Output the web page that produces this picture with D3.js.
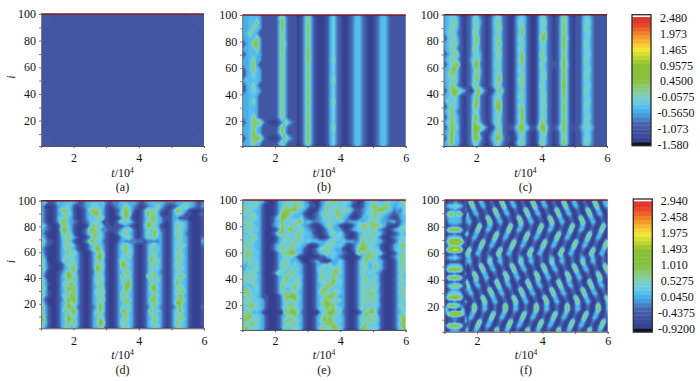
<!DOCTYPE html>
<html>
<head>
<meta charset="utf-8">
<script src="https://cdn.jsdelivr.net/npm/d3@7"></script>
<style>
  html, body { margin: 0; padding: 0; background: #fff; }
  svg { display: block; }
  text { font-family: "Liberation Serif", serif; fill: #111; }
</style>
</head>
<body>
<div id="chart"></div>
<script>
/* DATA: one string per row, i from top to bottom, one digit per t step */
const levelsTop = [-1.38, -1.05, -0.77, -0.52, -0.36, -0.16, 0.33, 0.53, 1.1, 1.42]
const levelsBottom = [-0.73, -0.42, -0.15, 0.08, 0.24, 0.43, 0.89, 1.09, 1.63, 1.94]
const ticksTop = ["2.480", "1.973", "1.465", "0.9575", "0.4500", "-0.0575", "-0.5650", "-1.073", "-1.580"]
const ticksBottom = ["2.940", "2.458", "1.975", "1.493", "1.010", "0.5275", "0.0450", "-0.4375", "-0.9200"]
const xTicks = [1, 2, 3, 4, 5, 6]
const yTicks = [10, 20, 30, 40, 50, 60, 70, 80, 90, 100]

const panelA = ["1111", "1111", "1111"]

const panelB = [
  "3344431111 1463111013 6310001352 1001244210 0124421111 1",
  "3344731111 1373111013 6310001352 1001244210 0124421111 1",
  "3346431111 1373111013 7310001352 1001244210 0124421111 1",
  "3464311111 1363111013 6310001352 1001244210 0124421111 1",
  "3344631111 1363111013 6310001352 1001244210 0124421111 1",
  "1346731111 1364111013 6310001352 1001244210 0124421111 1",
  "3344631111 1373111013 7310001352 1001244210 0124421111 1",
  "1344431111 1363111013 7310001352 1001244210 0124421111 1",
  "3346331111 1363111013 7310001362 1001244210 0124421111 1",
  "3346311111 1363111013 6310001352 1001244210 0124421111 1",
  "1346431111 1363111013 6310001352 1001244210 0124421111 1",
  "1345431111 1363111013 7310001352 1001244210 0124421111 1",
  "3444431111 1363111013 6310001362 1001244210 0124421111 1",
  "1346311111 1363111013 6310001352 1001244210 0124421111 1",
  "1345431111 1363111013 7310001352 1001244210 0124421111 1",
  "3344311111 1363111013 6310001352 1001244210 0124421111 1",
  "3346311111 1363111013 7310001362 1001244210 0124421111 1",
  "3344311111 1363111013 6310001352 1001244210 0124421111 1",
  "3344311111 1363111013 6310001352 1001244210 0124421111 1",
  "3346311111 1363111013 7310001352 1001244210 0124421111 1",
  "1346663100 0136421013 6310001352 1001244210 0124421111 1",
  "3346431111 1373111013 7310001362 1001244210 0124421111 1",
  "3347431111 1373111013 6310001352 1001244210 0124421111 1",
  "1346763100 0137421013 7310001352 1001244210 0124421111 1",
  "3346431111 1363111013 6310001352 1001244210 0124421111 1"
]

const panelC = [
  "3455310125 5210135521 0024531002 5521013641 0113542111 1",
  "3456310125 5310136521 0025531002 5621013641 0113552111 1",
  "3465310125 6210135621 0024631002 5521013741 0113642111 1",
  "3555210126 5210135521 0024731002 5621013641 0113552111 1",
  "1465310125 7210136521 0025531002 6721013751 0113542111 1",
  "3456310125 6210135721 0024631002 5521013741 0113642111 1",
  "3465210126 5210136521 0025531002 5521013741 0113542111 1",
  "1356510125 5310135621 0024731002 6521013641 0113552111 1",
  "3465310135 6310135521 0025731002 5621013741 0113642111 1",
  "1456710126 7210136521 0024631002 6421114751 0113542111 1",
  "3467310124 6310135521 0025531002 5521013741 0113552111 1",
  "3565310125 6310135621 0024631002 5621013741 0113642111 1",
  "3456310125 7210135721 0025631002 5521013741 0113542111 1",
  "3465210126 5210136521 0024631002 6521013841 0113552111 1",
  "1467653102 7631014741 0024531002 5521013741 0113642111 1",
  "3456310125 6210135521 0025631002 5621013741 0113542111 1",
  "3645310125 7210136621 0024531002 5521013641 0113552111 1",
  "1465310126 6210136721 0025631002 5621013741 0113642111 1",
  "3564210125 5210135621 0024731002 5521013741 0113542111 1",
  "1465310126 6210135521 0025731002 5621013641 0113552111 1",
  "3565310126 5310136521 0024631002 6521013741 0113642111 1",
  "1466410127 7652014621 1136753114 7731125741 1124553111 1",
  "3475310127 6210135621 0024631002 5621013641 0113542111 1",
  "1574410126 7410247631 1014531002 5521013641 0113552111 1",
  "3574310125 5210135521 0025631002 6521013741 0113642111 1"
]

const panelD = [
  "4411243444 3212344444 2122344333 2123444432 2233444321 2",
  "3000134453 1012345544 1012346532 1012346421 0124564321 3",
  "3100136753 1001366653 1001257531 0136564210 1376431000 1",
  "3100134564 1001346753 1001357620 0137564100 1355311001 2",
  "3100145643 1001354565 1000146410 0135664311 1331110000 1",
  "3100136643 2101245541 1001465531 0136564310 1355431000 1",
  "5310015653 1000146563 1101113210 0147654100 1365531000 1",
  "4210016753 1001376542 2111245631 0135465210 1356431000 1",
  "3100014654 1001356653 1001356431 0136475310 1365421000 1",
  "5200014565 3100136553 1000145631 0135564310 1356431000 2",
  "6311013563 1001376452 1000232222 2212222310 1355431000 4",
  "5210013656 3100135643 1001356531 0013564310 1355631000 2",
  "3100013564 3100135763 1001356541 0013645310 1365431000 1",
  "4100013465 6310013565 1001346541 0013564310 1356431000 1",
  "5200013556 4310013675 1001354631 0013654310 1365531000 1",
  "6300013645 5310013564 1001465431 0013756310 1356431000 1",
  "5310001365 6310013655 1001376531 0013565310 1365431000 1",
  "6410001346 6310013765 1001365431 0013645310 1356531000 1",
  "5200012475 6210012654 1001346631 0013564210 1354431000 1",
  "4100013576 5310013564 1001375531 0017564310 1356631000 1",
  "6300013465 7310013655 1001354631 0013746310 1365431000 1",
  "5310013647 5310013564 1001356731 0013564310 1375431000 1",
  "6400013576 6310013465 1001347631 0013675310 1356531000 1",
  "5310013465 7310013656 1001356531 0013564310 1365731000 1",
  "6310013647 6310013565 1001375431 0013465310 1357431000 1",
  "4100012576 7310013456 1001356631 0013764310 1356631000 1",
  "5200013465 6310013565 1001346531 0013565310 1377431000 1",
  "6310013576 5210012475 1001354631 0012564210 1246431000 2",
  "5310013746 7310013565 1001376531 0013745310 1357531000 1",
  "6310013465 6310013754 1001346431 0013564310 1365431000 1",
  "7310013576 5310013465 1001356531 0013465310 1356631000 1",
  "6410013465 7310013576 1001365431 0013564310 1375431000 1",
  "5310013564 5310013465 1001356531 0013456310 1356431000 1"
]

const panelE = [
  "4555643100 1345556553 2100235566 4554210134 5544454435 6",
  "6455531000 1346556564 3110246455 5543100134 6655664345 5",
  "6554431000 1356667543 1001346556 4565311235 5667654232 5",
  "5565431000 1378654431 0012465556 6543101245 5655432123 5",
  "4456531001 3576544452 1012356555 6431001344 5654321013 4",
  "5654431001 3464555663 4322345554 5423335345 6553323412 4",
  "4565431002 3565556543 2100135643 1000135665 6665310013 5",
  "5654531000 1375674564 3210013543 3101345564 6532101346 5",
  "4465431001 3664545654 4310012564 5310013455 5653100124 4",
  "5546531000 1346555654 4321001355 5310013656 5531001235 5",
  "4565431000 1355556554 5444334564 4533323654 6543100135 5",
  "5654431001 3464565543 1001346554 5310135665 5431001346 6",
  "6555431001 3565564431 0013565643 3100136765 5541001355 5",
  "5664531000 1356676431 0012456454 3210036456 5654100135 6",
  "5655431000 1345553100 0000113453 2100001366 6531001246 5",
  "5464531000 1356534310 0123100133 5310013564 5543100136 5",
  "4364531000 1365545431 0013455634 5310013654 4653100135 6",
  "3545631000 1356464531 0014564556 5310013564 4643100136 5",
  "4565431001 3654565431 0013645566 5310013645 5431000135 5",
  "5646531000 1346655541 0013565565 4310013564 4631000136 4",
  "6565431000 1356445631 0013654575 5310013565 5531000135 5",
  "5436531000 1365556541 0013456664 5310013645 6541000136 4",
  "3654531000 1364456531 0013566445 4310013564 5631000135 6",
  "7654531000 1356465431 0013665565 5310013656 6531000136 5",
  "4565431100 0136777531 0013456764 3310013564 6541000135 6",
  "5654543100 0136456531 0013566556 5310013656 5631000135 5",
  "6466543100 0135665431 0013467664 3310013564 5541000136 4",
  "4565543100 0136465531 0013556565 5310013645 6531000135 5",
  "5653431000 0016677521 0000356775 5210001366 7521000134 5",
  "5675543100 0134556431 0013465655 4310013564 5631000136 6",
  "7655643100 0136665531 0013576754 5310013656 6541000135 7",
  "5466543100 0135556431 0013456665 4310013564 5531000136 6",
  "6755543100 0136465531 0013665576 5310013765 5541000135 7"
]

const panelF = [
  "0011122211011 157510134310012100157510134310012100157510134310012100157510134310012100 1575101343",
  "1345556554311 015751013431001210015751013431001210015751013431001210015751013431001210 0157510134",
  "0112233221012 101343100121001575101343100121001575101343100121001575101343100121001575 1013431001",
  "1367664676310 510134310012100157510134310012100157510134310012100157510134310012100157 5101343100",
  "0234444433102 431001210015751013431001210015751013431001210015751013431001210015751013 4310012100",
  "0134444443202 343100121001575101343100121001575101343100121001575101343100121001575101 3431001210",
  "0011222211001 121001575101343100121001575101343100121001575101343100121001575101343100 1210015751",
  "1367777776310 210015751013431001210015751013431001210015751013431001210015751013431001 2100157510",
  "0011122111014 510134310012100157510134310012100157510134310012100157510134310012100157 5101343100",
  "0245555554201 101343100121001575101343100121001575101343100121001575101343100121001575 1013431001",
  "1367888887631 001210015751013431001210015751013431001210015751013431001210015751013431 0012100157",
  "0135555553102 012100157510134310012100157510134310012100157510134310012100157510134310 0121001575",
  "1578899987510 575101343100121001575101343100121001575101343100121001575101343100121001 5751013431",
  "0011122111014 751013431001210015751013431001210015751013431001210015751013431001210015 7510134310",
  "1234455432102 342100121001343101342100121001343101342100121001343101342100121001343101 3421001210",
  "0001111110002 343100121001575101343100121001575101343100121001575101343100121001575101 3431001210",
  "0245555554202 012100157510134310012100157510134310012100157510134310012100157510134310 0121001575",
  "1467777776410 001210015751013431001210015751013431001210015751013431001210015751013431 0012100157",
  "0011122110013 001575101343100121001575101343100121001575101343100121001575101343100121 0015751013",
  "1367777776310 100157510134310012100157510134310012100157510134310012100157510134310012 1001575101",
  "0011122110014 510134310012100157510134310012100157510134310012100157510134310012100157 5101343100",
  "0245666665310 751013431001210015751013431001210015751013431001210015751013431001210015 7510134310",
  "0012333321012 343100121001575101343100121001575101343100121001575101343100121001575101 3431001210",
  "0245555554201 134310012100157510134310012100157510134310012100157510134310012100157510 1343100121",
  "1467778776410 001210015751013431001210015751013431001210015751013431001210015751013431 0012100157",
  "0011122111014 100121001575101343100121001575101343100121001575101343100121001575101343 1001210015",
  "1367776653210 001575101343100121001575101343100121001575101343100121001575101343100121 0015751013",
  "3510112001530 001575101343100121001575101343100121001575101343100121001575101343100121 0015751013",
  "1467888887641 013431001210015751013431001210015751013431001210015751013431001210015751 0134310012",
  "0011222211013 134310012100157510134310012100157510134310012100157510134310012100157510 1343100121",
  "0011122110014 121001575101343100121001575101343100121001575101343100121001575101343100 1210015751",
  "1467777776410 210015751013431001210015751013431001210015751013431001210015751013431001 2100157510",
  "0012333321013 510134310012100157510134310012100157510134310012100157510134310012100157 5101343100"
]

/* the bar's colours, bottom to top */
const barStops = [0, 0.02, 0.1, 0.17, 0.22, 0.27, 0.32, 0.38, 0.44, 0.5, 0.62, 0.68, 0.74, 0.8, 0.86, 0.93, 0.98]
const barColors = ["#141418", "#303c8c", "#3e50a0", "#4864ac", "#4a90d2", "#46b4ea", "#66c8ea", "#7ccfc0",
  "#8ccb78", "#86c040", "#8cc034", "#c8d833", "#f5e834", "#f7b232", "#f0802a", "#e8402a", "#e03028"]
const color = d3.scaleLinear().domain(barStops).range(barColors).clamp(true)

const svg = d3.select("#chart")
  .append("svg")
  .attr("width", 700)
  .attr("height", 381)

const defs = svg.append("defs")
defs.append("filter")
  .attr("id", "soft")
  .attr("x", "-5%").attr("y", "-5%").attr("width", "110%").attr("height", "110%")
  .append("feGaussianBlur")
  .attr("stdDeviation", 0.35)

const rangeTop = [-1.58, 2.48]
const rangeBottom = [-0.92, 2.94]

drawPanel({ id: "a", rows: panelA, levels: levelsTop, range: rangeTop, left: 41, right: 204, top: 14, bottom: 146, yLabel: true, tickY: 162, titleY: 177, nameY: 191 })
drawPanel({ id: "b", rows: panelB, levels: levelsTop, range: rangeTop, left: 242.3, right: 405.7, top: 15, bottom: 146, tickY: 162, titleY: 177, nameY: 191 })
drawPanel({ id: "c", rows: panelC, levels: levelsTop, range: rangeTop, left: 443.7, right: 607, top: 14.7, bottom: 146, tickY: 162, titleY: 177, nameY: 191 })
drawPanel({ id: "d", rows: panelD, levels: levelsBottom, range: rangeBottom, left: 41, right: 204, top: 200.7, bottom: 328.3, yLabel: true, tickY: 345, titleY: 359, nameY: 374 })
drawPanel({ id: "e", rows: panelE, levels: levelsBottom, range: rangeBottom, left: 242.3, right: 405.7, top: 200, bottom: 330, tickY: 345, titleY: 359, nameY: 374 })
drawPanel({ id: "f", rows: panelF, levels: levelsBottom, range: rangeBottom, left: 444.3, right: 607.7, top: 200, bottom: 331.7, tickY: 345, titleY: 359, nameY: 374 })

drawBar({ range: rangeTop, labels: ticksTop, left: 632, right: 651, top: 14.7, bottom: 145.7, labelTop: 17.7, labelBottom: 145.3, labelX: 660 })
drawBar({ range: rangeBottom, labels: ticksBottom, left: 633.3, right: 652.3, top: 199, bottom: 332, labelTop: 201, labelBottom: 328.7, labelX: 660.7 })

function drawPanel(config) {
  const rows = config.rows.map(r => r.replace(/ /g, ""))
  const nRows = rows.length
  const nCols = d3.max(rows, r => r.length)
  const values = []
  rows.forEach(r => {
    for (let c = 0; c < nCols; c++) values.push(config.levels[+r[Math.min(c, r.length - 1)]])
  })

  const x = d3.scaleLinear().domain([1, 6]).range([config.left, config.right])
  const y = d3.scaleLinear().domain([1, 100]).range([config.bottom, config.top])
  const gridX = d3.scaleLinear().domain([0, nCols]).range(x.range())
  const gridY = d3.scaleLinear().domain([0, nRows]).range([y(100), y(1)])
  const frac = d3.scaleLinear().domain(config.range).range([0, 1])

  const bandSize = (config.range[1] - config.range[0]) / 36
  const thresholds = d3.range(config.range[0], config.range[1], bandSize)
  const contours = d3.contours().size([nCols, nRows]).thresholds(thresholds)(values)
  const path = d3.geoPath(d3.geoTransform({
    point(px, py) { this.stream.point(gridX(px), gridY(py)) }
  }))

  const clipId = `clip-${config.id}`
  defs.append("clipPath")
    .attr("id", clipId)
    .append("rect")
    .attr("x", config.left)
    .attr("y", config.top)
    .attr("width", config.right - config.left)
    .attr("height", config.bottom - config.top)

  const plot = svg.append("g").attr("clip-path", `url(#${clipId})`)
  const field = plot.append("g").attr("filter", "url(#soft)")

  field.append("rect")
    .attr("x", config.left - 3)
    .attr("y", config.top - 3)
    .attr("width", config.right - config.left + 6)
    .attr("height", config.bottom - config.top + 6)
    .attr("fill", color(frac(d3.min(values))))

  field.selectAll("path")
    .data(contours)
    .enter()
    .append("path")
    .attr("d", path)
    .attr("fill", d => color(frac(d.value + bandSize / 2)))

  // row i = 100 is the dark red edge
  svg.append("line")
    .attr("x1", config.left).attr("x2", config.right)
    .attr("y1", y(100)).attr("y2", y(100))
    .attr("stroke", "#7c1d22")
    .attr("stroke-width", 1.6)

  /* AXES */
  const xAxis = svg.append("g")
    .attr("transform", `translate(0, ${config.bottom})`)
    .call(d3.axisBottom(x).tickValues(xTicks).tickSize(2).tickFormat(d => d % 2 === 0 ? d : ""))
  const yAxis = svg.append("g")
    .attr("transform", `translate(${config.left}, 0)`)
    .call(d3.axisLeft(y).tickValues(yTicks).tickSize(2).tickFormat(d => d % 20 === 0 ? d : ""))

  xAxis.selectAll(".tick text")
    .attr("y", null).attr("dy", null)
    .attr("transform", `translate(0, ${config.tickY - config.bottom})`)
    .style("font-size", "12px")
    .style("font-family", "Liberation Serif")
  yAxis.selectAll(".tick text")
    .attr("x", -5).attr("dy", "0.3em")
    .style("font-size", "12px")
    .style("font-family", "Liberation Serif")
  xAxis.selectAll(".domain, line").attr("stroke", "#555")
  yAxis.selectAll(".domain, line").attr("stroke", "#777")

  /* LABELS */
  const centre = (config.left + config.right) / 2
  const title = svg.append("text")
    .attr("x", centre)
    .attr("y", config.titleY)
    .attr("text-anchor", "middle")
    .style("font-size", "12px")
  title.append("tspan").attr("font-style", "italic").text("t")
  title.append("tspan").text("/10")
  title.append("tspan").attr("dy", -4).style("font-size", "7.5px").text("4")

  svg.append("text")
    .attr("x", centre)
    .attr("y", config.nameY)
    .attr("text-anchor", "middle")
    .style("font-size", "12px")
    .text(`(${config.id})`)

  if (config.yLabel) {
    const middle = (config.top + config.bottom) / 2
    svg.append("text")
      .attr("transform", `translate(15, ${middle - 3}) rotate(-90)`)
      .attr("text-anchor", "middle")
      .attr("font-style", "italic")
      .style("font-size", "12px")
      .text("i")
  }
}

function drawBar(config) {
  const bar = d3.scaleLinear().domain(config.range).range([config.bottom, config.top])
  const frac = d3.scaleLinear().domain(config.range).range([0, 1])
  const bandSize = (config.range[1] - config.range[0]) / 32
  const bands = d3.range(config.range[0], config.range[1] - bandSize / 2, bandSize)

  svg.append("g")
    .selectAll("rect")
    .data(bands)
    .enter()
    .append("rect")
    .attr("x", config.left)
    .attr("width", config.right - config.left)
    .attr("y", d => bar(d + bandSize))
    .attr("height", d => bar(d) - bar(d + bandSize) + 0.4)
    .attr("fill", d => color(frac(d + bandSize / 2)))

  // white strip at the very top, black one at the very bottom
  svg.append("rect")
    .attr("x", config.left).attr("width", config.right - config.left)
    .attr("y", config.top).attr("height", 2.4)
    .attr("fill", "#fff")
  svg.append("rect")
    .attr("x", config.left).attr("width", config.right - config.left)
    .attr("y", config.bottom - 3).attr("height", 3)
    .attr("fill", "#141418")
  svg.append("rect")
    .attr("x", config.left).attr("width", config.right - config.left)
    .attr("y", config.top).attr("height", config.bottom - config.top)
    .attr("fill", "none")
    .attr("stroke", "#2b2b2b")
    .attr("stroke-width", 1.3)

  const labelY = d3.scaleLinear().domain([0, config.labels.length - 1]).range([config.labelTop, config.labelBottom])
  svg.append("g")
    .selectAll("text")
    .data(config.labels)
    .enter()
    .append("text")
    .attr("x", d => d[0] === "-" ? config.labelX - 2.6 : config.labelX)
    .attr("y", (d, n) => labelY(n))
    .attr("dy", "0.33em")
    .style("font-size", "12px")
    .text(d => d)
}
</script>
</body>
</html>
